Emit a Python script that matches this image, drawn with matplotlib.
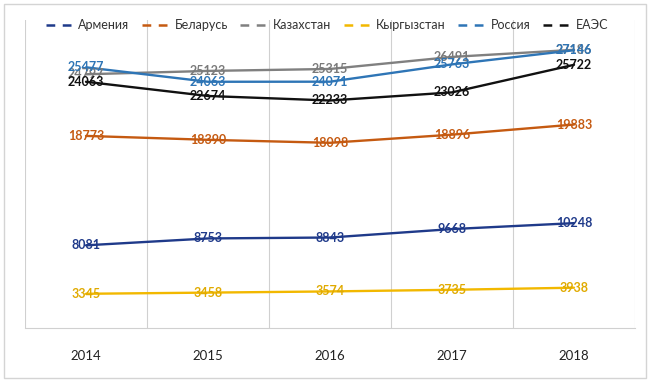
import numpy as np
import matplotlib
matplotlib.use('Agg')
import matplotlib.pyplot as plt
from matplotlib.lines import Line2D
from matplotlib.patches import Rectangle

# Данные
years = ['2014', '2015', '2016', '2017', '2018']
armenia = [8081, 8753, 8843, 9668, 10248]
belarus = [18773, 18390, 18098, 18896, 19883]
kazakhstan = [24797, 25123, 25315, 26491, 27186]
kyrgyzstan = [3345, 3458, 3574, 3735, 3938]
russia = [25477, 24063, 24071, 25763, 27146]
eaeu = [24063, 22674, 22233, 23026, 25722]

names = ['Армения', 'Беларусь', 'Казахстан', 'Кыргызстан', 'Россия', 'ЕАЭС']
series = [armenia, belarus, kazakhstan, kyrgyzstan, russia, eaeu]
colors = ['#1F3A8A', '#C55A11', '#808080', '#F2B800', '#2E75B6', '#111111']
label_colors = ['#1F3A8A', '#C55A11', '#7A7A7A', '#E0AA00', '#2E75B6', '#111111']

plt.rcParams['font.family'] = ['Lato', 'DejaVu Sans']

fig = plt.figure(figsize=(6.5, 3.82), dpi=100)
ax = fig.add_axes([25 / 650, 1 - 328 / 382, 610 / 650, 308 / 382])

x = np.arange(len(years))
for s, c, lc in zip(series, colors, label_colors):
    ax.plot(x, s, color=c, lw=1.7, solid_capstyle='round', zorder=3)
    for xi, v in zip(x, s):
        ax.text(xi, v, str(v), color=lc, fontsize=9, fontweight='bold',
                ha='center', va='center', zorder=4)

ax.set_xlim(-0.5, len(years) - 0.5)
ax.set_ylim(0, 30100)
ax.set_xticks(x)
ax.set_xticklabels(years, fontsize=9.5, color='#222222')
ax.tick_params(axis='x', length=0, pad=16)
ax.set_yticks([])
# вертикальные линии между категориями
for b in np.arange(-0.5, len(years), 1.0):
    ax.axvline(b, color='#D0D0D0', lw=0.8, zorder=1)
for sp in ['top', 'right', 'left']:
    ax.spines[sp].set_visible(False)
ax.spines['bottom'].set_color('#D0D0D0')
ax.spines['bottom'].set_linewidth(0.8)

handles = [Line2D([0], [0], color=c, lw=1.8, linestyle=(0, (3.5, 3))) for c in colors]
fig.legend(handles, names, loc='center', bbox_to_anchor=(327 / 650, 1 - 25 / 382),
           ncol=6, frameon=False, fontsize=9, handlelength=2.4, handletextpad=0.2,
           columnspacing=1.0, labelcolor='#333333')

# рамка вокруг картинки
fig.patches.append(Rectangle((4 / 650, 4 / 382), 642 / 650, 374 / 382,
                             transform=fig.transFigure, fill=False,
                             edgecolor='#D4D4D4', lw=1.0))

fig.savefig('out.png', dpi=100)
